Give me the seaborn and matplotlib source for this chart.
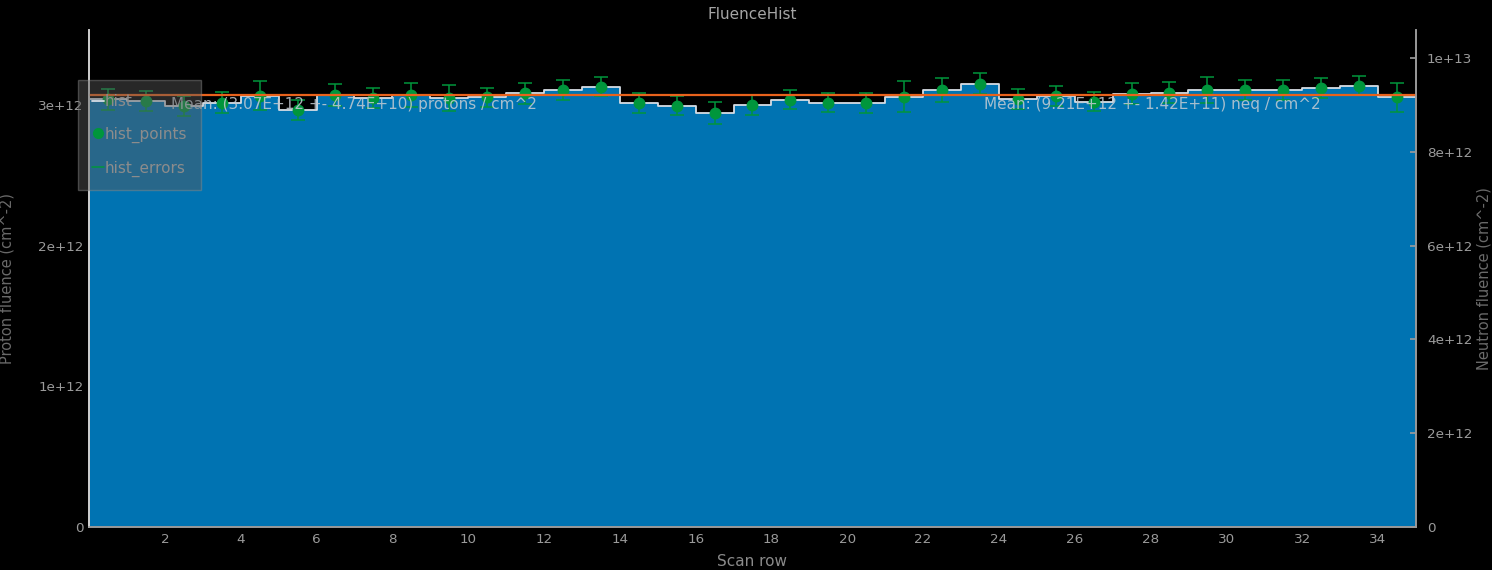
import numpy as np
import pandas as pd
import seaborn as sns
import matplotlib.pyplot as plt
from matplotlib.lines import Line2D
from matplotlib.ticker import FuncFormatter

# proton fluence per scan row (units of 1e12 cm^-2)
scan_rows = list(range(35))
proton_fluence = [
    3.040, 3.028, 2.993, 3.016, 3.064, 2.962, 3.069, 3.045, 3.071, 3.048,
    3.052, 3.083, 3.106, 3.128, 3.016, 2.993, 2.941, 3.000, 3.035, 3.016,
    3.016, 3.057, 3.106, 3.151, 3.040, 3.064, 3.023, 3.080, 3.085, 3.106,
    3.104, 3.106, 3.118, 3.135, 3.052,
]
# errors in units of 1e10 cm^-2
proton_errors = [
    7.4, 7.1, 7.1, 7.4, 10.3, 7.1, 7.8, 7.1, 8.5, 9.2,
    6.9, 7.4, 7.3, 6.7, 7.1, 6.9, 7.8, 7.1, 6.7, 6.9,
    7.1, 11.0, 8.7, 7.6, 7.1, 7.1, 6.9, 7.3, 7.4, 9.1,
    7.1, 7.1, 6.9, 6.7, 10.6,
]
proton_mean = 3.07e12
proton_mean_err = 4.74e10
neutron_mean = 9.21e12
neutron_mean_err = 1.42e11
hardness = neutron_mean / proton_mean

df = pd.DataFrame({
    "row": np.array(scan_rows) + 0.5,
    "fluence": np.array(proton_fluence) * 1e12,
    "err": np.array(proton_errors) * 1e10,
})

sns.set_theme(style="dark", rc={
    "figure.facecolor": "black",
    "axes.facecolor": "black",
    "axes.edgecolor": "#9a9a9a",
    "text.color": "#9a9a9a",
    "axes.labelcolor": "#8a8a8a",
    "xtick.color": "#9a9a9a",
    "ytick.color": "#9a9a9a",
})
plt.rcParams["font.family"] = ["DejaVu Sans"]

BLUE = "#0073b2"
GREEN = "#00963c"
ORANGE = "#e8621c"

fig = plt.figure(figsize=(14.92, 5.70), dpi=100)
ax = fig.add_axes([0.0597, 0.0754, 0.8893, 0.8716])

sns.histplot(data=df, x="row", weights="fluence", binwidth=1, binrange=(0, 35),
             element="step", fill=True, color=BLUE, alpha=1, linewidth=0, ax=ax)
sns.histplot(data=df, x="row", weights="fluence", binwidth=1, binrange=(0, 35),
             element="step", fill=False, color="#d6dde4", linewidth=1.3, ax=ax)
ax.errorbar(df["row"], df["fluence"], yerr=df["err"], fmt="o", color=GREEN,
            ecolor=GREEN, markersize=7.5, elinewidth=1.1, capsize=5, capthick=1.1,
            zorder=5)
ax.axhline(proton_mean, color=ORANGE, linewidth=1.6, zorder=6)

ax.set_xlim(0, 35)
ymax = 3.53e12
ax.set_ylim(0, ymax)
ax.set_xticks(np.arange(2, 35, 2))
ax.set_yticks([0, 1e12, 2e12, 3e12])


def sci(v, pos):
    if v == 0:
        return "0"
    return f"{v:.0e}"


ax.yaxis.set_major_formatter(FuncFormatter(sci))
ax.tick_params(axis="both", labelsize=9.7, length=0, pad=4,
               left=True, bottom=True)
ax.set_xlabel("Scan row", fontsize=11, color="#8a8a8a", labelpad=6)
ax.set_ylabel("Proton fluence (cm^-2)", fontsize=10.5, color="#6a6a6a", labelpad=17)
ax.set_title("FluenceHist", fontsize=11, color="#a5a5a5", pad=8)

ax2 = ax.twinx()
ax2.set_ylim(0, ymax * hardness)
ax2.set_yticks([0, 2e12, 4e12, 6e12, 8e12, 1e13])
ax2.yaxis.set_major_formatter(FuncFormatter(sci))
ax2.tick_params(axis="y", labelsize=9.7, length=4, direction="in", pad=8,
                color="#9a9a9a", right=True)
ax2.set_ylabel("Neutron fluence (cm^-2)", fontsize=10.5, color="#6a6a6a", labelpad=3)
ax2.grid(False)

for a in (ax, ax2):
    a.spines["top"].set_visible(False)
    a.spines["left"].set_color("#d0d0d0")
    a.spines["bottom"].set_color("#9a9a9a")
    a.spines["right"].set_color("#9a9a9a")
    for s in a.spines.values():
        s.set_linewidth(1.2)

ax.text(2.15, 3.0e12,
        f"Mean: ({proton_mean:.2E} +- {proton_mean_err:.2E}) protons / cm^2",
        fontsize=11, color="#c4ccd4", alpha=0.85, va="center", zorder=7)
ax.text(23.6, 3.0e12,
        f"Mean: ({neutron_mean:.2E} +- {neutron_mean_err:.2E}) neq / cm^2",
        fontsize=11, color="#c4ccd4", alpha=0.85, va="center", zorder=7)

handles = [
    Line2D([], [], color="#d6dde4", linewidth=1.3),
    Line2D([], [], color=GREEN, marker="o", linestyle="none", markersize=7),
    Line2D([], [], color=GREEN, linewidth=1.1),
]
leg = ax2.legend(handles, ["hist", "hist_points", "hist_errors"],
                 loc="upper left", bbox_to_anchor=(83 / 1492, 1 - 85 / 570),
                 bbox_transform=fig.transFigure, fontsize=11, frameon=True,
                 handlelength=0.8, handletextpad=0.0, labelspacing=1.15,
                 borderpad=0.6, borderaxespad=0)
frame = leg.get_frame()
frame.set_facecolor("#5a5a5a")
frame.set_alpha(0.45)
frame.set_edgecolor("#8a8a8a")
frame.set_boxstyle("square")
for t in leg.get_texts():
    t.set_color("#8c8c8c")
leg.set_zorder(10)

fig.savefig("out.png", dpi=100, facecolor="black")
